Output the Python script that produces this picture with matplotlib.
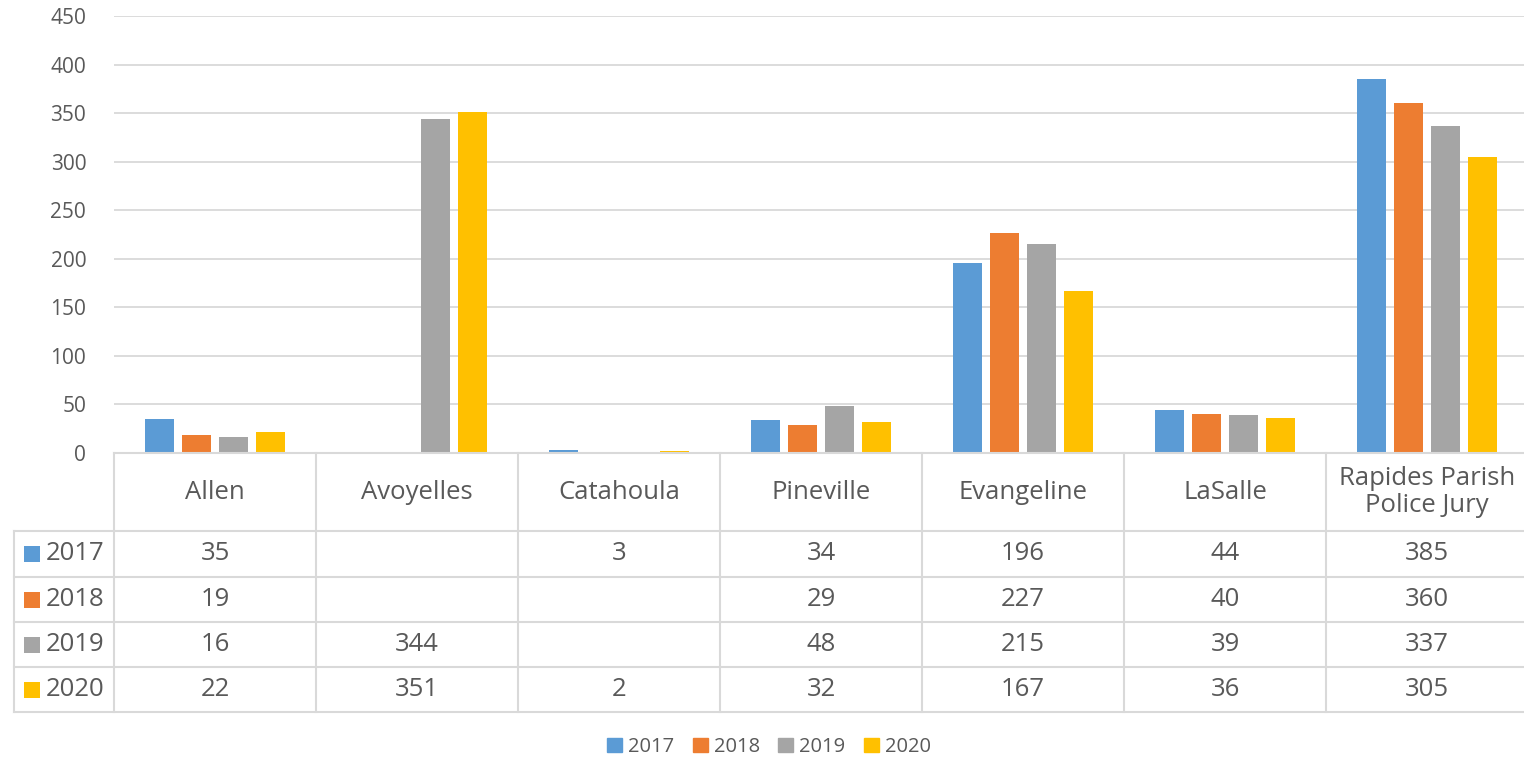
import numpy as np
import matplotlib
matplotlib.use("Agg")
import matplotlib.pyplot as plt
import matplotlib.patches as patches

categories = ["Allen", "Avoyelles", "Catahoula", "Pineville", "Evangeline", "LaSalle", "Rapides Parish\nPolice Jury"]
years = ["2017", "2018", "2019", "2020"]
v2017 = [35, None, 3, 34, 196, 44, 385]
v2018 = [19, None, None, 29, 227, 40, 360]
v2019 = [16, 344, None, 48, 215, 39, 337]
v2020 = [22, 351, 2, 32, 167, 36, 305]
series = [v2017, v2018, v2019, v2020]
colors = ["#5B9BD5", "#ED7D31", "#A5A5A5", "#FFC000"]

text_color = "#595959"
grid_color = "#D9D9D9"
plt.rcParams["font.family"] = ["Open Sans", "DejaVu Sans"]

W, H = 1524, 758
fig = plt.figure(figsize=(W / 100, H / 100), dpi=100)

def px_axes(x0, y0, x1, y1):
    return fig.add_axes([x0 / W, 1 - y1 / H, (x1 - x0) / W, (y1 - y0) / H])

left, right = 114, 1528
ax = px_axes(left, 16, right, 453)
n = len(categories)
x = np.arange(n)
slot = 0.1816
bw = 0.1436
for i, (vals, c) in enumerate(zip(series, colors)):
    v = np.array([np.nan if a is None else a for a in vals], dtype=float)
    ax.bar(x + (i - 1.5) * slot, v, width=bw, color=c, label=years[i], zorder=3)

ax.set_xlim(-0.5, n - 0.5)
ax.set_ylim(0, 450)
ax.set_yticks(range(0, 451, 50))
ax.yaxis.grid(True, color=grid_color, linewidth=1.3, zorder=0)
ax.set_xticks([])
ax.tick_params(axis="y", length=0, pad=20, labelsize=15, labelcolor=text_color)
for s in ax.spines.values():
    s.set_visible(False)

# data table below the plot
tab = px_axes(left, 453, right, 712)
tab.set_xlim(-0.5, n - 0.5)
tab.set_ylim(259, 0)
tab.axis("off")
row_edges = [0, 78, 124, 169, 214, 259]
lw = 1.5
left_w = 100 / 202.0
xl = -0.5 - left_w
tab.plot([-0.5, n - 0.5], [0, 0], color=grid_color, lw=lw, clip_on=False)
for r in row_edges[1:]:
    tab.plot([xl, n - 0.5], [r, r], color=grid_color, lw=lw, clip_on=False)
for k in range(n + 1):
    tab.plot([k - 0.5, k - 0.5], [0, 259], color=grid_color, lw=lw, clip_on=False)
tab.plot([xl, xl], [78, 259], color=grid_color, lw=lw, clip_on=False)

fs = 18.5
for j, cat in enumerate(categories):
    tab.text(j, 39, cat, ha="center", va="center", fontsize=fs, color=text_color,
             linespacing=1.1)
for i, vals in enumerate(series):
    yc = (row_edges[i + 1] + row_edges[i + 2]) / 2
    for j, v in enumerate(vals):
        if v is not None:
            tab.text(j, yc, str(v), ha="center", va="center", fontsize=fs, color=text_color)
    tab.add_patch(patches.Rectangle((xl + 10 / 202, yc - 8), 16 / 202, 16,
                                    facecolor=colors[i], edgecolor="none", clip_on=False))
    tab.text(xl + 32 / 202, yc, years[i], ha="left", va="center", fontsize=fs, color=text_color)

handles = [patches.Patch(color=c) for c in colors]
fig.legend(handles, years, loc="center", bbox_to_anchor=(769 / W, 1 - 747 / H), ncol=4,
           frameon=False, fontsize=14.5, labelcolor=text_color, handlelength=0.75,
           handleheight=0.75, handletextpad=0.3, columnspacing=0.9)

fig.savefig("out.png", dpi=100)
